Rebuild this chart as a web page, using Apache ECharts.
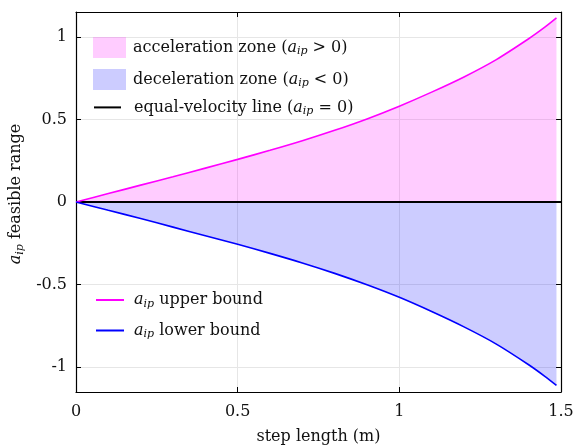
<!DOCTYPE html>
<html lang="en">
<head>
<meta charset="UTF-8">
<title>a_ip feasible range</title>
<script src="https://cdn.jsdelivr.net/npm/echarts@6.0.0/dist/echarts.min.js"></script>
<style>
  html, body { margin: 0; padding: 0; background: #fff; }
  #main { width: 582px; height: 446px; }
</style>
</head>
<body>
<div id="main"></div>
<script>
// step length (m) and the bounds of a_ip
const stepLength = [0, 0.1, 0.2, 0.3, 0.4, 0.5, 0.6, 0.7, 0.8, 0.9, 1.0, 1.1, 1.2, 1.3, 1.4, 1.45, 1.486];
const upperBound = [0, 0.051, 0.102, 0.153, 0.205, 0.258, 0.313, 0.371, 0.434, 0.503, 0.58, 0.665, 0.757, 0.862, 0.988, 1.058, 1.114];
const lowerBound = [0, -0.05, -0.1, -0.152, -0.204, -0.256, -0.311, -0.369, -0.432, -0.501, -0.577, -0.663, -0.756, -0.86, -0.985, -1.055, -1.11];
const zeroLineX = [0, 1.5];
const zeroLineY = [0, 0];

const xRange = [0, 1.5];
const yRange = [-1.15, 1.15];

const FONT = 'DejaVu Serif';
const fs = 16;
const pink = '#ff00ff';
const blue = '#0000ff';

const pairs = (xs, ys) => xs.map((x, i) => [x, ys[i]]);

// legend text with math-style a_ip
const legendText = {
  acc: '{t|acceleration zone (}{m|a}{s|ip}{t| > 0)}',
  dec: '{t|deceleration zone (}{m|a}{s|ip}{t| < 0)}',
  eq: '{t|equal-velocity line (}{m|a}{s|ip}{t| = 0)}',
  up: '{m|a}{s|ip}{t| upper bound}',
  low: '{m|a}{s|ip}{t| lower bound}'
};
const rich = {
  t: { fontFamily: FONT, fontSize: fs, color: '#111' },
  m: { fontFamily: FONT, fontSize: fs, fontStyle: 'italic', color: '#111' },
  s: { fontFamily: FONT, fontSize: 11, fontStyle: 'italic', color: '#111', padding: [8, 0, 0, 0] }
};

const chart = echarts.init(document.getElementById('main'));
const legendBase = {
  orient: 'vertical',
  padding: 0,
  selectedMode: false,
  formatter: n => legendText[n]
};
const noSymbol = { opacity: 0 };
const tick = { show: true, inside: true, length: 5, lineStyle: { color: '#000', width: 1 } };

chart.setOption({
  animation: false,
  textStyle: { fontFamily: FONT },
  grid: { left: 76, right: 21, top: 12, bottom: 54, outerBoundsMode: 'none', containLabel: false },
  legend: [
    Object.assign({}, legendBase, {
      left: 93, top: 37, itemWidth: 33, itemHeight: 21, itemGap: 11,
      textStyle: { rich: rich, padding: [0, 0, 0, 2] },
      data: [
        { name: 'acc', icon: 'rect', itemStyle: { color: 'rgba(255,0,255,0.2)', borderWidth: 0 } },
        { name: 'dec', icon: 'rect', itemStyle: { color: 'rgba(0,0,255,0.2)', borderWidth: 0 } }
      ]
    }),
    Object.assign({}, legendBase, {
      left: 93, top: 99, itemWidth: 27, itemHeight: 21,
      textStyle: { rich: rich, padding: [0, 0, 0, 8] },
      data: [{ name: 'eq', itemStyle: noSymbol }]
    }),
    Object.assign({}, legendBase, {
      left: 95, top: 292, itemWidth: 28, itemHeight: 14, itemGap: 13,
      textStyle: { rich: rich, padding: [0, 0, 0, 5] },
      data: [{ name: 'up', itemStyle: noSymbol }, { name: 'low', itemStyle: noSymbol }]
    })
  ],
  xAxis: [{
    type: 'value',
    min: xRange[0], max: xRange[1], interval: 0.5,
    name: 'step length (m)',
    nameLocation: 'middle',
    nameGap: 37,
    nameTextStyle: { fontFamily: FONT, fontSize: fs, color: '#111' },
    axisLine: { onZero: false, lineStyle: { color: '#000', width: 1.2 } },
    axisTick: tick,
    axisLabel: { fontFamily: FONT, fontSize: fs, color: '#111', margin: 12 },
    splitLine: { show: true, lineStyle: { color: '#e6e6e6', width: 1 } }
  }, {
    type: 'value', position: 'top',
    min: xRange[0], max: xRange[1], interval: 0.5,
    axisLine: { show: true, onZero: false, lineStyle: { color: '#000', width: 1.2 } },
    axisTick: tick,
    axisLabel: { show: false },
    splitLine: { show: false }
  }],
  yAxis: [{
    type: 'value',
    min: yRange[0], max: yRange[1], splitNumber: 5,
    name: '{m|a}{s|ip}{t| feasible range}',
    nameLocation: 'middle',
    nameRotate: 90,
    nameGap: 34,
    nameTextStyle: { rich: rich, padding: [0, 0, 0, 16] },
    axisLine: { onZero: false, lineStyle: { color: '#000', width: 1.2 } },
    axisTick: tick,
    axisLabel: { fontFamily: FONT, fontSize: fs, color: '#111', margin: 9,
      showMinLabel: false, showMaxLabel: false },
    splitLine: { show: true, lineStyle: { color: '#e6e6e6', width: 1 } }
  }, {
    type: 'value', position: 'right',
    min: yRange[0], max: yRange[1], splitNumber: 5,
    axisLine: { show: true, onZero: false, lineStyle: { color: '#000', width: 1.2 } },
    axisTick: tick,
    axisLabel: { show: false },
    splitLine: { show: false }
  }],
  series: [
    {
      name: 'acc', type: 'line', data: pairs(stepLength, upperBound),
      symbol: 'none', smooth: 0.3, color: 'rgba(255,0,255,0.2)',
      lineStyle: { width: 0 },
      areaStyle: { color: 'rgba(255,0,255,0.2)', opacity: 1 }
    },
    {
      name: 'dec', type: 'line', data: pairs(stepLength, lowerBound),
      symbol: 'none', smooth: 0.3, color: 'rgba(0,0,255,0.2)',
      lineStyle: { width: 0 },
      areaStyle: { color: 'rgba(0,0,255,0.2)', opacity: 1 }
    },
    {
      name: 'eq', type: 'line', data: pairs(zeroLineX, zeroLineY),
      symbol: 'none', color: '#000', lineStyle: { width: 2, color: '#000' }, z: 4
    },
    {
      name: 'up', type: 'line', data: pairs(stepLength, upperBound),
      symbol: 'none', smooth: 0.3, color: pink, lineStyle: { width: 1.6, color: pink }, z: 5
    },
    {
      name: 'low', type: 'line', data: pairs(stepLength, lowerBound),
      symbol: 'none', smooth: 0.3, color: blue, lineStyle: { width: 1.6, color: blue }, z: 5
    }
  ]
});
</script>
</body>
</html>
